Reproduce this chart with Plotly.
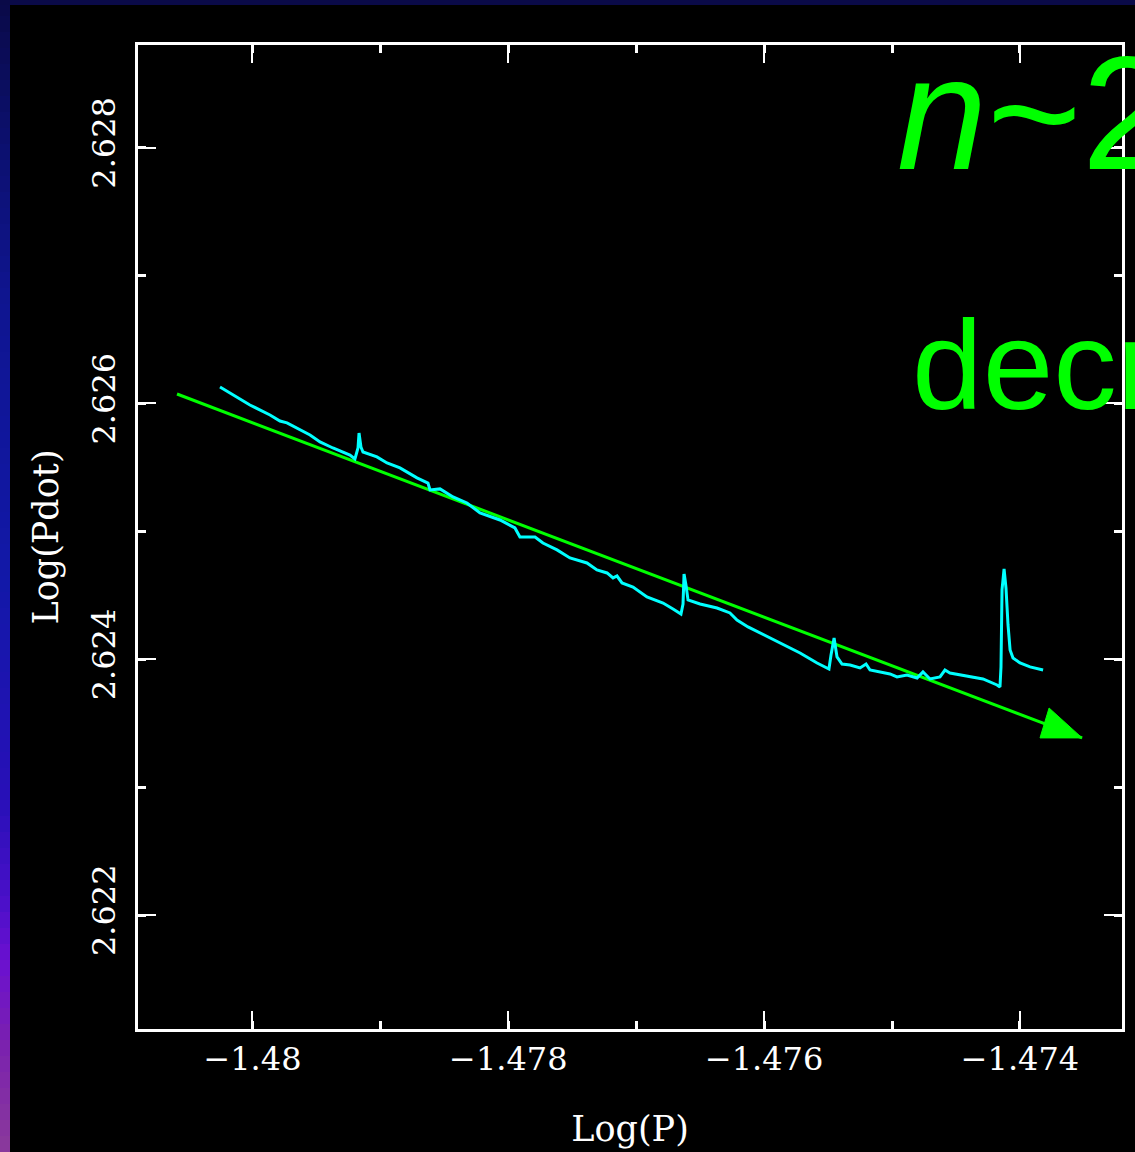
import plotly.graph_objects as go

# ---------------- data ----------------
log_p = [-1.480254, -1.480121, -1.480020, -1.479863, -1.479785, -1.479730, -1.479629,
         -1.479550, -1.479472, -1.479371, -1.479238, -1.479199, -1.479175, -1.479167,
         -1.479152, -1.479136, -1.479027, -1.478948, -1.478847, -1.478714, -1.478628,
         -1.478612, -1.478534, -1.478432, -1.478323, -1.478221, -1.478065, -1.477948,
         -1.477909, -1.477791, -1.477729, -1.477619, -1.477518, -1.477385, -1.477307,
         -1.477228, -1.477181, -1.477150, -1.477111, -1.477025, -1.476916, -1.476790,
         -1.476712, -1.476658, -1.476650, -1.476634, -1.476626, -1.476611, -1.476595,
         -1.476501, -1.476368, -1.476267, -1.476212, -1.476126, -1.475954, -1.475852,
         -1.475719, -1.475586, -1.475493, -1.475477, -1.475453, -1.475430, -1.475391,
         -1.475328, -1.475250, -1.475203, -1.475172, -1.475016, -1.474961, -1.474883,
         -1.474804, -1.474758, -1.474703, -1.474625, -1.474586, -1.474547, -1.474414,
         -1.474289, -1.474179, -1.474156, -1.474148, -1.474140, -1.474124, -1.474109,
         -1.474093, -1.474077, -1.474054, -1.473999, -1.473921, -1.473819]
log_pdot = [2.626129, 2.626051, 2.625988, 2.625910, 2.625863, 2.625848, 2.625793,
            2.625754, 2.625699, 2.625652, 2.625597, 2.625566, 2.625652, 2.625769,
            2.625660, 2.625621, 2.625582, 2.625535, 2.625496, 2.625418, 2.625378,
            2.625324, 2.625332, 2.625269, 2.625222, 2.625144, 2.625089, 2.625027,
            2.624956, 2.624956, 2.624909, 2.624855, 2.624792, 2.624753, 2.624698,
            2.624675, 2.624636, 2.624651, 2.624597, 2.624565, 2.624487, 2.624440,
            2.624393, 2.624362, 2.624354, 2.624432, 2.624667, 2.624581, 2.624464,
            2.624432, 2.624401, 2.624362, 2.624307, 2.624253, 2.624167, 2.624112,
            2.624049, 2.623971, 2.623924, 2.624034, 2.624167, 2.624018, 2.623963,
            2.623955, 2.623932, 2.623963, 2.623916, 2.623885, 2.623862, 2.623877,
            2.623854, 2.623901, 2.623846, 2.623862, 2.623916, 2.623893, 2.623869,
            2.623846, 2.623799, 2.623783, 2.623940, 2.624542, 2.624706, 2.624557,
            2.624268, 2.624073, 2.624010, 2.623971, 2.623940, 2.623916]

# fitted trend (braking-index line) and its arrowhead
trend_x = [-1.480590, -1.473514]
trend_y = [2.626074, 2.623385]
arrow_x = [-1.473772, -1.473514, -1.473843, -1.473772]
arrow_y = [2.623619, 2.623385, 2.623385, 2.623619]

x_range = [-1.480895, -1.473202]
y_range = [2.621109, 2.628803]
x_tickvals = [-1.480, -1.478, -1.476, -1.474]
x_ticktext = ["\u22121.48", "\u22121.478", "\u22121.476", "\u22121.474"]
y_tickvals = [2.622, 2.624, 2.626, 2.628]
y_ticktext = ["2.622", "2.624", "2.626", "2.628"]

GREEN = "#00ff00"
CYAN = "#00ffff"
TICKFONT = dict(family="DejaVu Serif", size=32, color="white")

fig = go.Figure()
fig.add_trace(go.Scatter(x=trend_x, y=trend_y, mode="lines",
                         line=dict(color=GREEN, width=3), hoverinfo="skip"))
fig.add_trace(go.Scatter(x=arrow_x, y=arrow_y, mode="lines", fill="toself",
                         fillcolor=GREEN, line=dict(color=GREEN, width=1),
                         hoverinfo="skip"))
fig.add_trace(go.Scatter(x=log_p, y=log_pdot, mode="lines",
                         line=dict(color=CYAN, width=3)))

# ---- slide background strips (gradient on the left, navy on top) ----
W, H = 1135, 1152
L, R, T, B = 138, 13, 45, 123
pw, ph = W - L - R, H - T - B


def px2paper_x(px):
    return (px - L) / pw


def px2paper_y(py):
    return (H - B - py) / ph


stops = [(0, (10, 10, 72)), (150, (12, 16, 112)), (300, (15, 21, 144)),
         (580, (18, 24, 168)), (800, (40, 16, 184)), (900, (74, 16, 200)),
         (960, (106, 16, 208)), (1040, (122, 32, 176)), (1152, (138, 58, 154))]


def col_at(y):
    for (y0, c0), (y1, c1) in zip(stops[:-1], stops[1:]):
        if y0 <= y <= y1:
            t = (y - y0) / (y1 - y0)
            return "rgb(%d,%d,%d)" % tuple(round(a + (b - a) * t) for a, b in zip(c0, c1))
    return "rgb(%d,%d,%d)" % stops[-1][1]


shapes = []
step = 16
for y0 in range(0, H, step):
    y1 = min(H, y0 + step)
    shapes.append(dict(type="rect", xref="paper", yref="paper",
                       x0=px2paper_x(0), x1=px2paper_x(10),
                       y0=px2paper_y(y1), y1=px2paper_y(y0),
                       fillcolor=col_at((y0 + y1) / 2), line=dict(width=0), layer="below"))
shapes.append(dict(type="rect", xref="paper", yref="paper",
                   x0=px2paper_x(0), x1=px2paper_x(W),
                   y0=px2paper_y(5), y1=px2paper_y(0),
                   fillcolor="rgb(10,10,72)", line=dict(width=0), layer="below"))

axis_common = dict(showgrid=False, zeroline=False, showline=True, linecolor="white",
                   linewidth=3, mirror="allticks", ticks="inside", ticklen=18,
                   tickwidth=2, tickcolor="white", tickfont=TICKFONT, automargin=False)

fig.update_layout(
    width=W, height=H, autosize=False,
    margin=dict(l=L, r=R, t=T, b=B),
    paper_bgcolor="black", plot_bgcolor="black",
    showlegend=False, shapes=shapes,
    xaxis=dict(range=x_range, tickvals=x_tickvals, ticktext=x_ticktext,
               minor=dict(dtick=0.001, tick0=-1.48, ticks="inside", ticklen=8,
                          tickwidth=3, tickcolor="white", showgrid=False),
               title=dict(text="Log(P)", font=dict(family="DejaVu Serif", size=35,
                                                   color="white"), standoff=40),
               **axis_common),
    yaxis=dict(range=y_range, tickvals=y_tickvals, ticktext=y_ticktext, tickangle=-90,
               ticklabelstandoff=7,
               minor=dict(dtick=0.001, tick0=2.622, ticks="inside", ticklen=8,
                          tickwidth=3, tickcolor="white", showgrid=False),
               title=dict(text="Log(Pdot)", font=dict(family="DejaVu Serif", size=35,
                                                      color="white"), standoff=16),
               **axis_common),
    annotations=[
        dict(text="<i>n</i>~2", xref="paper", yref="paper",
             x=px2paper_x(895), y=px2paper_y(20), xanchor="left", yanchor="top",
             showarrow=False, font=dict(family="Liberation Sans", size=162, color=GREEN)),
        dict(text="decr", xref="paper", yref="paper",
             x=px2paper_x(910), y=px2paper_y(292), xanchor="left", yanchor="top",
             showarrow=False, font=dict(family="Liberation Sans", size=127, color=GREEN)),
    ],
)

fig.write_html("out.html")
